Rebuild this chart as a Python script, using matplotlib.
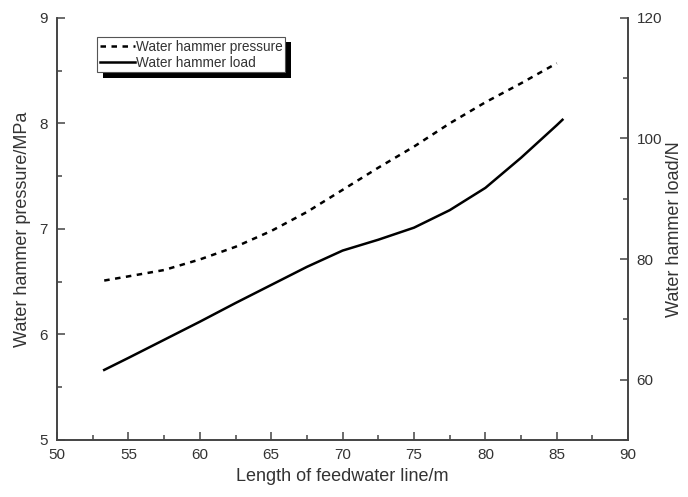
import matplotlib
matplotlib.use('Agg')
import matplotlib.pyplot as plt
import matplotlib.patheffects as pe
from matplotlib.ticker import MultipleLocator

# length of feedwater line (m)
length = [53.3, 55, 57.5, 60, 62.5, 65, 67.5, 70, 72.5, 75, 77.5, 80, 82.5, 85]
# water hammer pressure (MPa), left axis
pressure = [6.51, 6.55, 6.61, 6.71, 6.83, 6.98, 7.16, 7.37, 7.58, 7.78, 8.00, 8.20, 8.38, 8.57]
# water hammer load (N), right axis
length_load = [53.3, 55, 57.5, 60, 62.5, 65, 67.5, 70, 72.5, 75, 77.5, 80, 81.1, 82.5, 85, 85.4]
load = [61.6, 63.6, 66.6, 69.6, 72.7, 75.7, 78.7, 81.4, 83.2, 85.2, 88.1, 91.8, 94.0, 96.8, 102.2, 103.1]

plt.rcParams['font.family'] = ['Liberation Sans', 'DejaVu Sans']
txt = '#333333'

fig = plt.figure(figsize=(6.88, 4.97), dpi=100)
ax = fig.add_axes([0.083, 0.115, 0.83, 0.849])
ax2 = ax.twinx()

l1, = ax.plot(length, pressure, color='black', lw=1.8, ls=(0, (2.2, 2.2)),
              label='Water hammer pressure')
l2, = ax2.plot(length_load, load, color='black', lw=1.8, solid_joinstyle='round',
               label='Water hammer load')

ax.set_xlim(50, 90)
ax.set_ylim(5, 9)
ax2.set_ylim(50, 120)
ax.xaxis.set_major_locator(MultipleLocator(5))
ax.xaxis.set_minor_locator(MultipleLocator(2.5))
ax.yaxis.set_major_locator(MultipleLocator(1))
ax.yaxis.set_minor_locator(MultipleLocator(0.5))
ax2.yaxis.set_minor_locator(MultipleLocator(10))
ax2.set_yticks([60, 80, 100, 120])

for a in (ax, ax2):
    a.spines['top'].set_visible(False)
    for s in a.spines.values():
        s.set_color('#444444')
        s.set_linewidth(1.2)
    a.tick_params(which='both', direction='in', colors='#444444',
                  labelcolor=txt, labelsize=11, width=1.1)
    a.tick_params(which='major', length=6)
    a.tick_params(which='minor', length=3.5)
ax.tick_params(axis='x', pad=6)
ax.tick_params(axis='y', pad=7)
ax2.tick_params(axis='y', pad=6)

ax.set_xlabel('Length of feedwater line/m', fontsize=13, color=txt, labelpad=4)
ax.set_ylabel('Water hammer pressure/MPa', fontsize=13, color=txt, labelpad=6)
ax2.set_ylabel('Water hammer load/N', fontsize=13, color=txt, labelpad=3)

leg = ax.legend(handles=[l1, l2], loc='upper left', bbox_to_anchor=(0.07, 0.955),
                fontsize=9.8, frameon=True, fancybox=False, handlelength=2.6,
                handletextpad=0.05, borderpad=0.2, labelspacing=0.15,
                borderaxespad=0)
fr = leg.get_frame()
fr.set_edgecolor('#555555')
fr.set_linewidth(0.8)
fr.set_alpha(1)
fr.set_path_effects([pe.SimplePatchShadow(offset=(4, -4), shadow_rgbFace='black', alpha=1),
                     pe.Normal()])
for t in leg.get_texts():
    t.set_color(txt)

fig.savefig('out.png', dpi=100)
